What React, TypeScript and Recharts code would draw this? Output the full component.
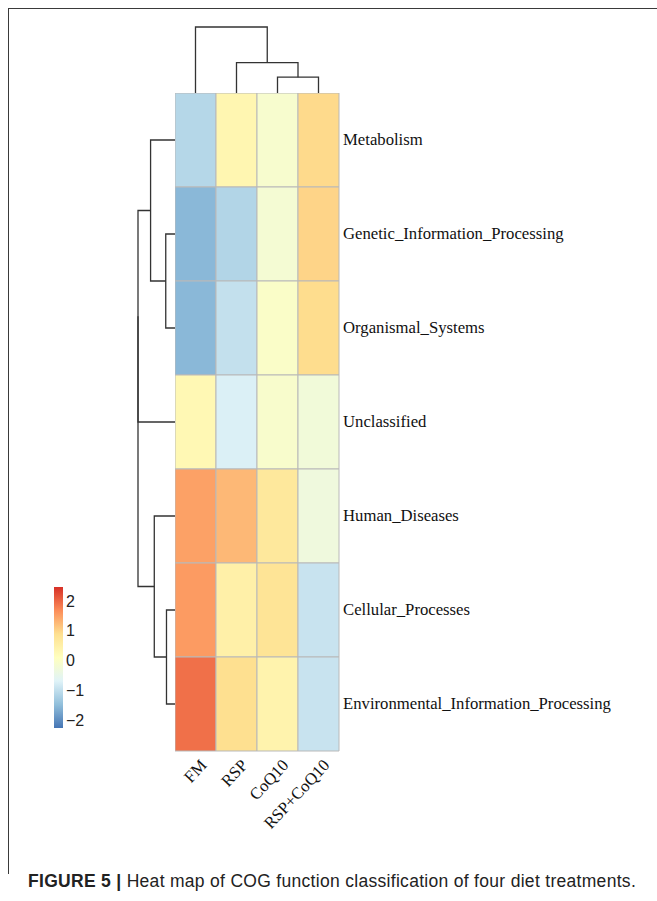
import React from "react";
import { BarChart, Bar, Cell, XAxis, YAxis, ScatterChart, Scatter } from "recharts";

const treatments = ["FM", "RSP", "CoQ10", "RSP+CoQ10"];
const pathways = [
  "Metabolism",
  "Genetic_Information_Processing",
  "Organismal_Systems",
  "Unclassified",
  "Human_Diseases",
  "Cellular_Processes",
  "Environmental_Information_Processing",
];

// scaled abundance per treatment, in pathway order
const fmZ = [-1.12, -1.55, -1.55, 0.28, 1.49, 1.55, 1.93];
const rspZ = [0.33, -1.15, -0.98, -0.74, 1.27, 0.48, 0.89];
const coqZ = [-0.11, -0.18, -0.03, -0.08, 0.68, 0.79, 0.41];
const rspCoqZ = [0.95, 1.0, 0.92, -0.26, -0.31, -0.93, -0.93];

// hclust style merges: negative = leaf (1-based, display order), positive = earlier merge
const colMerge = [[-3, -4], [-2, 1], [-1, 2]];
const colHeight = [0.24, 0.46, 1];
const rowMerge = [[-2, -3], [-1, 1], [-6, -7], [-5, 3], [2, -4], [5, 4]];
const rowHeight = [0.25, 0.66, 0.23, 0.56, 1, 1];

const legendTicks = [-2, -1, 0, 1, 2];
const zRange = [-2.27, 2.47];
const palette = ["#4575B4", "#91BFDB", "#E0F3F8", "#FFFFBF", "#FEE090", "#FC8D59", "#D73027"];

const columns = [fmZ, rspZ, coqZ, rspCoqZ];
const serif = "'Liberation Serif', 'Times New Roman', serif";
const sans = "'Liberation Sans', Arial, Helvetica, sans-serif";
const lineCol = "#333";

function hex(c: string) { return [1, 3, 5].map((i) => parseInt(c.slice(i, i + 2), 16)); }

function zColor(v: number) {
  const t = Math.min(1, Math.max(0, (v - zRange[0]) / (zRange[1] - zRange[0]))) * (palette.length - 1);
  const i = Math.min(palette.length - 2, Math.floor(t));
  const f = t - i;
  const a = hex(palette[i]), b = hex(palette[i + 1]);
  const m = a.map((x, k) => Math.round(x + (b[k] - x) * f));
  return `rgb(${m[0]},${m[1]},${m[2]})`;
}

// turn merges into U-shaped links: [{p, h}] x4
function links(merge: number[][], heights: number[]) {
  const nodePos: number[] = [];
  const pos = (k: number) => (k < 0 ? -k - 0.5 : nodePos[k - 1]);
  const hgt = (k: number) => (k < 0 ? 0 : heights[k - 1]);
  return merge.map(([a, b], i) => {
    const h = heights[i];
    nodePos[i] = (pos(a) + pos(b)) / 2;
    return [
      { p: pos(a), h: hgt(a) },
      { p: pos(a), h },
      { p: pos(b), h },
      { p: pos(b), h: hgt(b) },
    ];
  });
}

const colLinks = links(colMerge, colHeight);
const rowLinks = links(rowMerge, rowHeight);

const heatData = treatments.map((name) => {
  const d: Record<string, number | string> = { name };
  pathways.forEach((_, r) => { d[`r${r}`] = 1; });
  return d;
});

const keyData = [{ name: "key", span: zRange }];

const noDot = () => <g />;

/* eslint-disable @typescript-eslint/no-explicit-any */
function RowTick({ x, y, payload }: any) {
  return (
    <text x={x} y={y} dy="0.32em" textAnchor="start" fontFamily={serif} fontSize={16.7} fill="#111">
      {pathways[Math.floor(payload.value)]}
    </text>
  );
}

function ColTick({ x, y, payload }: any) {
  const tx = x + 12, ty = y + 15;
  return (
    <text x={tx} y={ty} textAnchor="end" transform={`rotate(-47, ${tx}, ${ty})`} fontFamily={serif} fontSize={16.7} fill="#111">
      {payload.value}
    </text>
  );
}

function LegendTick({ x, y, payload }: any) {
  const v = payload.value;
  return (
    <text x={x} y={y} dy="0.36em" textAnchor="start" fontFamily={sans} fontSize={16} fill="#222">
      {v < 0 ? `\u2212${Math.abs(v)}` : v}
    </text>
  );
}
/* eslint-enable @typescript-eslint/no-explicit-any */

export default function App() {
  return (
    <div style={{ position: "absolute", left: 0, top: 0, width: 657, height: 901, background: "#fff", overflow: "hidden" }}>
      <div style={{ position: "absolute", left: 8, top: 8, width: 649, height: 865, borderTop: "1px solid #3a3a3a", borderLeft: "1px solid #3a3a3a" }} />

      {/* column dendrogram */}
      <div style={{ position: "absolute", left: 173, top: 25 }}>
        <ScatterChart width={168} height={70} margin={{ top: 2, right: 2, bottom: 2, left: 2 }}>
          <XAxis type="number" dataKey="p" domain={[0, 4]} hide />
          <YAxis type="number" dataKey="h" domain={[0, 1]} hide />
          {colLinks.map((pts, i) => (
            <Scatter key={i} data={pts} line={{ stroke: lineCol, strokeWidth: 1.3 }} lineType="joint" shape={noDot} isAnimationActive={false} />
          ))}
        </ScatterChart>
      </div>

      {/* row dendrogram */}
      <div style={{ position: "absolute", left: 136, top: 91 }}>
        <ScatterChart width={41} height={662} margin={{ top: 2, right: 2, bottom: 2, left: 2 }}>
          <XAxis type="number" dataKey="h" domain={[0, 1]} reversed hide />
          <YAxis type="number" dataKey="p" domain={[0, 7]} reversed hide />
          {rowLinks.map((pts, i) => (
            <Scatter key={i} data={pts} line={{ stroke: lineCol, strokeWidth: 1.3 }} lineType="joint" shape={noDot} isAnimationActive={false} />
          ))}
        </ScatterChart>
      </div>

      {/* heat map */}
      <div style={{ position: "absolute", left: 175, top: 93 }}>
        <BarChart width={464} height={758} data={heatData} margin={{ top: 0, right: 0, bottom: 0, left: 0 }} barCategoryGap={0} barGap={0}>
          <XAxis dataKey="name" height={100} tickLine={false} axisLine={false} tickSize={0} tickMargin={0} interval={0} tick={<ColTick />} />
          <YAxis type="number" domain={[0, 7]} reversed orientation="right" width={300} ticks={pathways.map((_, r) => r + 0.5)} interval={0} tickLine={false} axisLine={false} tickSize={0} tickMargin={4} tick={<RowTick />} />
          {pathways.map((p, r) => (
            <Bar key={p} dataKey={`r${r}`} stackId="hm" isAnimationActive={false}>
              {columns.map((col, c) => (
                <Cell key={c} fill={zColor(col[r])} stroke="#b9b9b9" strokeWidth={1} />
              ))}
            </Bar>
          ))}
        </BarChart>
      </div>

      {/* colour key */}
      <div style={{ position: "absolute", left: 54, top: 587 }}>
        <BarChart width={41} height={141} data={keyData} margin={{ top: 0, right: 0, bottom: 0, left: 0 }} barCategoryGap={0} barGap={0}>
          <defs>
            <linearGradient id="keyGrad" x1="0" y1="1" x2="0" y2="0">
              {palette.map((c, i) => (
                <stop key={c} offset={`${(i / (palette.length - 1)) * 100}%`} stopColor={c} />
              ))}
            </linearGradient>
          </defs>
          <XAxis dataKey="name" hide />
          <YAxis type="number" domain={zRange} allowDataOverflow orientation="right" width={32} ticks={legendTicks} interval={0} tickLine={false} axisLine={false} tickSize={0} tickMargin={3} tick={<LegendTick />} />
          <Bar dataKey="span" fill="url(#keyGrad)" isAnimationActive={false} />
        </BarChart>
      </div>

      <div style={{ position: "absolute", left: 28, top: 873, fontFamily: sans, fontSize: 17.5, letterSpacing: 0.3, lineHeight: 1, color: "#222", whiteSpace: "nowrap" }}>
        <b>FIGURE 5 |</b> Heat map of COG function classification of four diet treatments.
      </div>
    </div>
  );
}
